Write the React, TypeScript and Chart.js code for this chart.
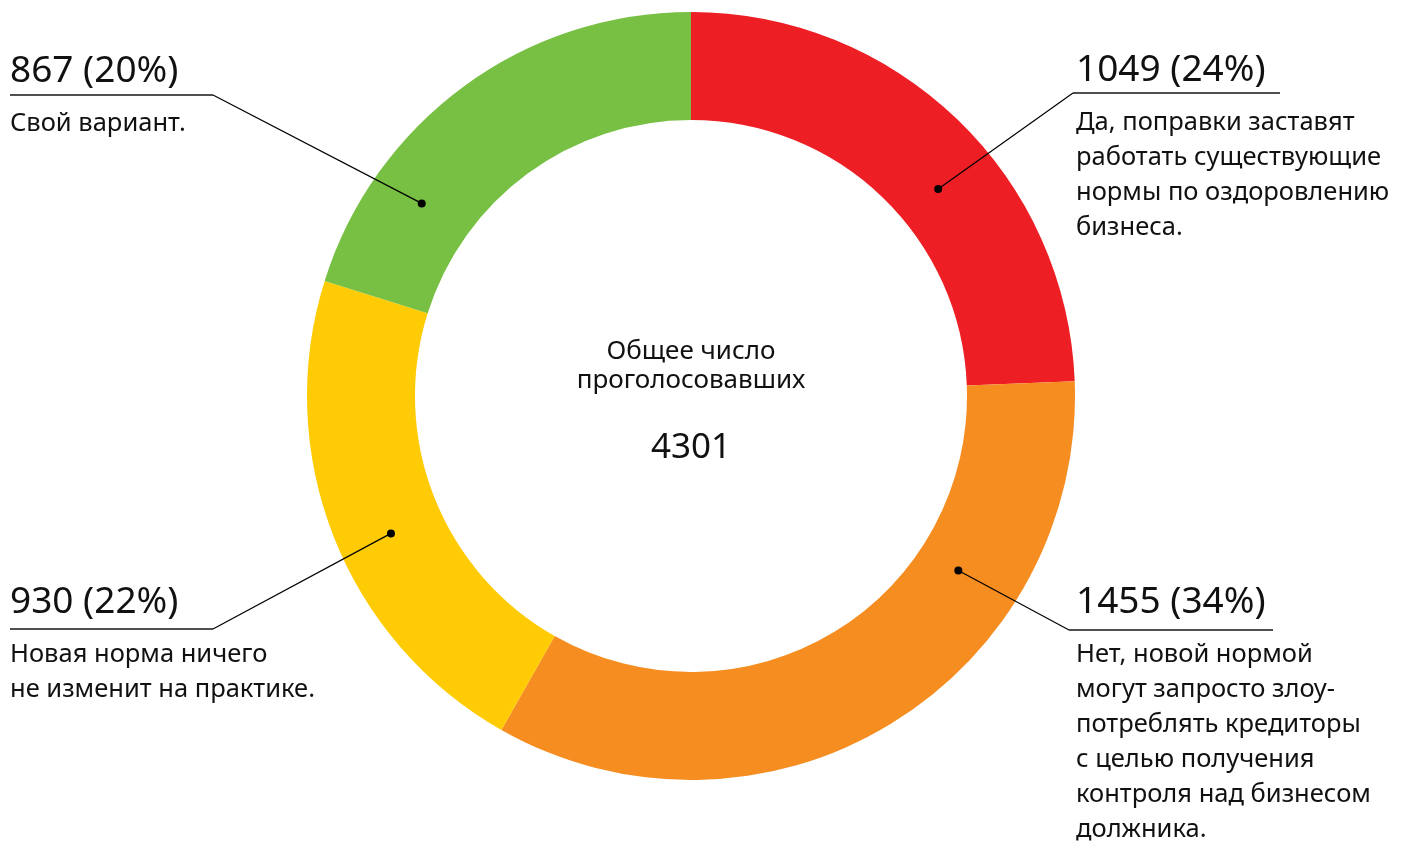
import React, { useEffect, useRef } from "react";
import { Chart, registerables } from "chart.js";

Chart.register(...registerables);

const categories = [
  "Да, поправки заставят работать существующие нормы по оздоровлению бизнеса.",
  "Нет, новой нормой могут запросто злоупотреблять кредиторы с целью получения контроля над бизнесом должника.",
  "Новая норма ничего не изменит на практике.",
  "Свой вариант.",
];
const votes = [1049, 1455, 930, 867];
const segmentColors = ["#ED1F24", "#F68D21", "#FECB05", "#77C043"];
const descriptionLines = [
  ["Да, поправки заставят", "работать существующие", "нормы по оздоровлению", "бизнеса."],
  ["Нет, новой нормой", "могут запросто злоу-", "потреблять кредиторы", "с целью получения", "контроля над бизнесом", "должника."],
  ["Новая норма ничего", "не изменит на практике."],
  ["Свой вариант."],
];
const centerTitle = ["Общее число", "проголосовавших"];

const FONT = '"Noto Sans", "Open Sans", sans-serif';

// label placement (layout, not data)
const labelLayout = [
  { side: "right", textX: 1076, headY: 81, lineY: 93, lineX0: 1073, lineX1: 1280, frac: 0.57, rfrac: 0.43 },
  { side: "right", textX: 1076, headY: 613, lineY: 630, lineX0: 1069, lineX1: 1273, frac: 0.29, rfrac: 0.4 },
  { side: "left", textX: 10, headY: 613, lineY: 629, lineX0: 10, lineX1: 213, frac: 0.46, rfrac: 0.5 },
  { side: "left", textX: 10, headY: 82, lineY: 95, lineX0: 10, lineX1: 213, frac: 0.25, rfrac: 0.51 },
];

const labelPlugin = {
  id: "labelPlugin",
  afterDraw(chart: any) {
    const ctx = chart.ctx;
    const meta = chart.getDatasetMeta(0);
    const total = votes.reduce((a, b) => a + b, 0);
    ctx.save();
    meta.data.forEach((arc: any, i: number) => {
      const p = arc.getProps(["x", "y", "startAngle", "endAngle", "innerRadius", "outerRadius"], true);
      const L = labelLayout[i];
      const a = p.startAngle + (p.endAngle - p.startAngle) * L.frac;
      const r = p.innerRadius + (p.outerRadius - p.innerRadius) * L.rfrac;
      const dx = p.x + Math.cos(a) * r;
      const dy = p.y + Math.sin(a) * r;
      const jx = L.side === "left" ? L.lineX1 : L.lineX0;

      // underline
      ctx.strokeStyle = "#505050";
      ctx.lineWidth = 2;
      ctx.beginPath();
      ctx.moveTo(L.lineX0, L.lineY);
      ctx.lineTo(L.lineX1, L.lineY);
      ctx.stroke();
      // leader
      ctx.strokeStyle = "#000";
      ctx.lineWidth = 1.2;
      ctx.beginPath();
      ctx.moveTo(jx, L.lineY);
      ctx.lineTo(dx, dy);
      ctx.stroke();
      // dot
      ctx.fillStyle = "#000";
      ctx.beginPath();
      ctx.arc(dx, dy, 4, 0, Math.PI * 2);
      ctx.fill();

      // texts
      ctx.fillStyle = "#111";
      ctx.textAlign = "left";
      ctx.textBaseline = "alphabetic";
      ctx.font = `37px ${FONT}`;
      const pct = Math.round((votes[i] / total) * 100);
      ctx.fillText(`${votes[i]} (${pct}%)`, L.textX, L.headY);
      ctx.font = `25.5px ${FONT}`;
      descriptionLines[i].forEach((line, k) => {
        ctx.fillText(line, L.textX, L.headY + 49 + k * 35);
      });
    });

    // center
    const c = meta.data[0];
    const cx = c.x;
    ctx.textAlign = "center";
    ctx.fillStyle = "#111";
    ctx.font = `26px ${FONT}`;
    ctx.fillText(centerTitle[0], cx, 359);
    ctx.fillText(centerTitle[1], cx, 388);
    ctx.font = `35px ${FONT}`;
    ctx.fillText(String(total), cx, 458);
    ctx.restore();
  },
};

export default function App() {
  const ref = useRef<HTMLCanvasElement | null>(null);
  useEffect(() => {
    document.body.style.margin = "0";
    if (!ref.current) return;
    const chart = new Chart(ref.current, {
      type: "doughnut",
      data: {
        labels: categories,
        datasets: [
          {
            data: votes,
            backgroundColor: segmentColors,
            borderWidth: 0,
          },
        ],
      },
      options: {
        responsive: false,
        animation: false,
        cutout: "71.875%",
        layout: { padding: { left: 307, right: 336, top: 12, bottom: 61 } },
        plugins: {
          legend: { display: false },
          tooltip: { enabled: false },
        },
      },
      plugins: [labelPlugin],
    });
    return () => chart.destroy();
  }, []);
  return (
    <div style={{ position: "absolute", left: 0, top: 0, width: 1411, height: 841, background: "#fff" }}>
      <canvas ref={ref} width={1411} height={841} style={{ display: "block" }} />
    </div>
  );
}
